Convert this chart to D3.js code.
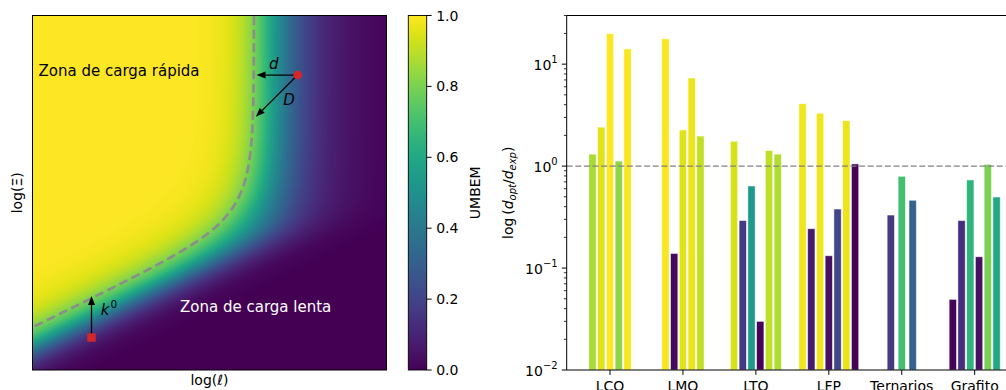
<!DOCTYPE html>
<html>
<head>
<meta charset="utf-8">
<script src="https://cdn.jsdelivr.net/npm/d3@7"></script>
<style>
  body { margin: 0; background: #fff; }
  svg { display: block; font-family: "DejaVu Sans", sans-serif; }
</style>
</head>
<body>
<script>
// ---- bar chart data (ratio d_opt/d_exp and UMBEM colour value per study) ----
var materials = ["LCO", "LMO", "LTO", "LFP", "Ternarios", "Grafito"];
var ratioLCO = [1.31, 2.41, 19.9, 1.12, 14.1];
var ratioLMO = [17.7, 0.139, 2.26, 7.31, 1.97];
var ratioLTO = [1.75, 0.292, 0.638, 0.030, 1.42, 1.31];
var ratioLFP = [4.09, 0.243, 3.30, 0.132, 0.379, 2.79, 1.05];
var ratioTern = [0.331, 0.794, 0.462];
var ratioGraf = [0.0493, 0.292, 0.731, 0.129, 1.04, 0.497];
var umbemLCO = [0.87, 0.95, 1.0, 0.83, 0.99];
var umbemLMO = [0.99, 0.03, 0.95, 0.97, 0.91];
var umbemLTO = [0.94, 0.17, 0.54, 0.01, 0.9, 0.88];
var umbemLFP = [0.98, 0.07, 0.98, 0.04, 0.21, 0.97, 0.01];
var umbemTern = [0.17, 0.7, 0.31];
var umbemGraf = [0.01, 0.13, 0.65, 0.04, 0.8, 0.6];
var yTicks = [0.01, 0.1, 1, 10];
var yExps = ["\u22122", "\u22121", "0", "1"];
var cbTicks = [0, 0.2, 0.4, 0.6, 0.8, 1.0];

// ---- map model parameters (normalised log axes) ----
var diffSlope = 5.0, diffMid = 0.636;       // diffusion-limited side
var kinBase = 0.11, kinSlope = 0.49;        // kinetic-limited line
var kinLin = 5, kinQuad = 40;
var contourLevel = 0.8;

// annotations in normalised map units
var markerCircle = [0.749, 0.832];
var markerSquare = [0.1667, 0.0917];
var arrowFrom = [[0.749, 0.832], [0.749, 0.832], [0.1667, 0.0917]];
var arrowTo = [[0.633, 0.832], [0.631, 0.7145], [0.1667, 0.2087]];

var ratios = [ratioLCO, ratioLMO, ratioLTO, ratioLFP, ratioTern, ratioGraf];
var umbems = [umbemLCO, umbemLMO, umbemLTO, umbemLFP, umbemTern, umbemGraf];

function umbem(u, v) {
  var phiD = Math.pow(10, diffSlope * (u - diffMid));
  var t = kinBase + kinSlope * u - v;
  var phiK = Math.pow(10, kinLin * t + kinQuad * Math.max(0, t) * t);
  var phi = phiD + phiK;
  return Math.tanh(phi) / phi;
}

var svg = d3.select("body").append("svg")
  .attr("width", 1006)
  .attr("height", 390);

var color = d3.scaleSequential(d3.interpolateViridis).domain([0, 1]);

// ---------------- left: map ----------------
var hm = { x: 32.5, y: 15.5, w: 354, h: 354.5 };
var uScale = d3.scaleLinear().domain([0, 1]).range([hm.x, hm.x + hm.w]);
var vScale = d3.scaleLinear().domain([0, 1]).range([hm.y + hm.h, hm.y]);

var cw = 354, ch = 355;
var canvas = document.createElement("canvas");
canvas.width = cw; canvas.height = ch;
var ctx = canvas.getContext("2d");
var img = ctx.createImageData(cw, ch);
for (var j = 0; j < ch; j++) {
  for (var i = 0; i < cw; i++) {
    var c = d3.rgb(color(umbem((i + 0.5) / cw, 1 - (j + 0.5) / ch)));
    var k = (j * cw + i) * 4;
    img.data[k] = c.r; img.data[k + 1] = c.g; img.data[k + 2] = c.b; img.data[k + 3] = 255;
  }
}
ctx.putImageData(img, 0, 0);

svg.append("image")
  .attr("x", hm.x).attr("y", hm.y)
  .attr("width", hm.w).attr("height", hm.h)
  .attr("preserveAspectRatio", "none")
  .attr("href", canvas.toDataURL());

// dashed contour of the map
var N = 240, grid = new Array(N * N);
for (var gj = 0; gj < N; gj++)
  for (var gi = 0; gi < N; gi++)
    grid[gj * N + gi] = umbem((gi + 0.5) / N, 1 - (gj + 0.5) / N);
var cont = d3.contours().size([N, N]).thresholds([contourLevel])(grid)[0];
var ring = cont.coordinates.map(function (p) { return p[0]; })
  .sort(function (a, b) { return b.length - a.length; })[0];
var onEdge = function (p) { return p[0] < 0.25 || p[1] < 0.25 || p[0] > N - 0.25 || p[1] > N - 0.25; };
var startIdx = ring.findIndex(onEdge);
var rot = ring.slice(startIdx).concat(ring.slice(0, startIdx));
var runs = [], cur = [];
rot.forEach(function (p) {
  if (onEdge(p)) { if (cur.length) runs.push(cur); cur = []; }
  else cur.push(p);
});
if (cur.length) runs.push(cur);
var curve = runs.sort(function (a, b) { return b.length - a.length; })[0];
if (curve[0][1] > curve[curve.length - 1][1]) curve.reverse();

var gx = d3.scaleLinear().domain([0, N]).range([hm.x, hm.x + hm.w]);
var gy = d3.scaleLinear().domain([0, N]).range([hm.y, hm.y + hm.h]);
svg.append("path")
  .attr("d", d3.line().x(function (p) { return gx(p[0]); }).y(function (p) { return gy(p[1]); })(curve))
  .attr("fill", "none")
  .attr("stroke", "#8c8c8c")
  .attr("stroke-width", 2.6)
  .attr("stroke-dasharray", "9,4.5");

// arrows
function arrow(a, b) {
  var x1 = uScale(a[0]), y1 = vScale(a[1]), x2 = uScale(b[0]), y2 = vScale(b[1]);
  var dx = x2 - x1, dy = y2 - y1, len = Math.sqrt(dx * dx + dy * dy);
  var ux = dx / len, uy = dy / len, hl = 9, hw = 3.5;
  var bx = x2 - ux * hl, by = y2 - uy * hl;
  svg.append("line")
    .attr("x1", x1).attr("y1", y1).attr("x2", bx).attr("y2", by)
    .attr("stroke", "black").attr("stroke-width", 1.3);
  svg.append("path")
    .attr("d", "M" + x2 + "," + y2 + "L" + (bx - uy * hw) + "," + (by + ux * hw) +
      "L" + (bx + uy * hw) + "," + (by - ux * hw) + "Z")
    .attr("fill", "black");
}
arrowFrom.forEach(function (a, idx) { arrow(a, arrowTo[idx]); });

svg.append("circle")
  .attr("cx", uScale(markerCircle[0])).attr("cy", vScale(markerCircle[1]))
  .attr("r", 4.3).attr("fill", "#d62728");
svg.append("rect")
  .attr("x", uScale(markerSquare[0]) - 4.2).attr("y", vScale(markerSquare[1]) - 4.2)
  .attr("width", 8.4).attr("height", 8.4).attr("fill", "#d62728");

svg.append("text")
  .attr("x", uScale(0.017)).attr("y", vScale(0.829))
  .attr("font-size", 15).attr("fill", "black")
  .text("Zona de carga rápida");
svg.append("text")
  .attr("x", uScale(0.4167)).attr("y", vScale(0.165))
  .attr("font-size", 15).attr("fill", "white")
  .text("Zona de carga lenta");
svg.append("text")
  .attr("x", uScale(0.668)).attr("y", vScale(0.849))
  .attr("font-size", 15).attr("font-style", "italic")
  .text("d");
svg.append("text")
  .attr("x", uScale(0.708)).attr("y", vScale(0.7475))
  .attr("font-size", 15).attr("font-style", "italic")
  .text("D");
var kt = svg.append("text")
  .attr("x", uScale(0.193)).attr("y", vScale(0.155))
  .attr("font-size", 15);
kt.append("tspan").attr("font-style", "italic").text("k");
kt.append("tspan").attr("font-size", 10.5).attr("dy", -7).attr("dx", 1).text("0");

svg.append("rect")
  .attr("x", hm.x).attr("y", hm.y).attr("width", hm.w).attr("height", hm.h)
  .attr("fill", "none").attr("stroke", "black").attr("stroke-width", 1);

svg.append("text")
  .attr("x", hm.x + hm.w / 2).attr("y", 385)
  .attr("text-anchor", "middle").attr("font-size", 14)
  .text("log(\u2113)");
svg.append("text")
  .attr("transform", "translate(22," + (hm.y + hm.h / 2) + ") rotate(-90)")
  .attr("text-anchor", "middle").attr("font-size", 14)
  .text("log(\u039E)");

// ---------------- colorbar ----------------
var cb = { x: 408.3, y: 15.5, w: 18.4, h: 354.5 };
var cbScale = d3.scaleLinear().domain([0, 1]).range([cb.y + cb.h, cb.y]);
var grad = svg.append("defs").append("linearGradient")
  .attr("id", "vir").attr("x1", 0).attr("y1", 1).attr("x2", 0).attr("y2", 0);
d3.range(0, 1.0001, 0.02).forEach(function (t) {
  grad.append("stop").attr("offset", t).attr("stop-color", color(t));
});
svg.append("rect")
  .attr("x", cb.x).attr("y", cb.y).attr("width", cb.w).attr("height", cb.h)
  .attr("fill", "url(#vir)").attr("stroke", "black").attr("stroke-width", 0.9);
var cbAxis = svg.append("g");
cbTicks.forEach(function (t) {
  var yy = cbScale(t);
  cbAxis.append("line")
    .attr("x1", cb.x + cb.w).attr("x2", cb.x + cb.w + 4.9)
    .attr("y1", yy).attr("y2", yy)
    .attr("stroke", "black").attr("stroke-width", 1);
  cbAxis.append("text")
    .attr("x", cb.x + cb.w + 9.5).attr("y", yy + 5)
    .attr("font-size", 14)
    .text(d3.format(".1f")(t));
});
svg.append("text")
  .attr("transform", "translate(480," + (cb.y + cb.h / 2) + ") rotate(-90)")
  .attr("text-anchor", "middle").attr("font-size", 14)
  .text("UMBEM");

// ---------------- right: bars ----------------
var bc = { x: 566.7, y: 15.5, w: 451.3, h: 354.5 };
var xCat = d3.scalePoint().domain(materials).range([bc.x, bc.x + bc.w]).padding(0.594);
var unit = xCat.step();
var y = d3.scaleLog().domain([0.01, 30]).range([bc.y + bc.h, bc.y]);

var bars = [];
materials.forEach(function (m, mi) {
  var vals = ratios[mi], n = vals.length;
  var step = (n <= 3 ? 0.15 : 0.12) * unit;
  vals.forEach(function (v, bi) {
    bars.push({ cx: xCat(m) + (bi - (n - 1) / 2) * step, value: v, c: umbems[mi][bi] });
  });
});

svg.append("g").selectAll("rect").data(bars).enter().append("rect")
  .attr("x", function (d) { return d.cx - 0.05 * unit; })
  .attr("width", 0.1 * unit)
  .attr("y", function (d) { return y(d.value); })
  .attr("height", function (d) { return y(0.01) - y(d.value); })
  .attr("fill", function (d) { return color(d.c); })
  .attr("stroke", "white")
  .attr("stroke-width", 0.8)
  .attr("stroke-opacity", 0.6);

svg.append("line")
  .attr("x1", bc.x).attr("x2", 1010)
  .attr("y1", y(1)).attr("y2", y(1))
  .attr("stroke", "#808080").attr("stroke-width", 1.2)
  .attr("stroke-dasharray", "6,2.6");

// y axis ticks
var minor = [];
yTicks.forEach(function (t) {
  for (var m = 2; m <= 9; m++) if (t * m <= 30) minor.push(t * m);
});
svg.append("g").selectAll("line").data(minor).enter().append("line")
  .attr("x1", bc.x - 2.8).attr("x2", bc.x)
  .attr("y1", function (d) { return y(d); }).attr("y2", function (d) { return y(d); })
  .attr("stroke", "black").attr("stroke-width", 0.8);
yTicks.forEach(function (t, ti) {
  var yy = y(t);
  svg.append("line")
    .attr("x1", bc.x - 4.9).attr("x2", bc.x)
    .attr("y1", yy).attr("y2", yy)
    .attr("stroke", "black").attr("stroke-width", 1);
  var tx = svg.append("text")
    .attr("x", bc.x - 9).attr("y", yy + 5.5)
    .attr("text-anchor", "end").attr("font-size", 14);
  tx.append("tspan").text("10");
  tx.append("tspan").attr("font-size", 10).attr("dy", -6.5).text(yExps[ti]);
});

// x axis ticks
materials.forEach(function (m) {
  svg.append("line")
    .attr("x1", xCat(m)).attr("x2", xCat(m))
    .attr("y1", bc.y + bc.h).attr("y2", bc.y + bc.h + 4.9)
    .attr("stroke", "black").attr("stroke-width", 1);
  svg.append("text")
    .attr("x", xCat(m)).attr("y", bc.y + bc.h + 21)
    .attr("text-anchor", "middle").attr("font-size", 14)
    .text(m);
});

// spines
svg.append("path")
  .attr("d", "M1010," + bc.y + "H" + bc.x + "V" + (bc.y + bc.h) + "H1010")
  .attr("fill", "none").attr("stroke", "black").attr("stroke-width", 1);

// y label
var yl = svg.append("text")
  .attr("transform", "translate(513," + (bc.y + bc.h / 2) + ") rotate(-90)")
  .attr("text-anchor", "middle").attr("font-size", 14);
yl.append("tspan").text("log\u2009(");
yl.append("tspan").attr("font-style", "italic").text("d");
yl.append("tspan").attr("font-style", "italic").attr("font-size", 10).attr("dy", 3).text("opt");
yl.append("tspan").attr("dy", -3).text("/");
yl.append("tspan").attr("font-style", "italic").text("d");
yl.append("tspan").attr("font-style", "italic").attr("font-size", 10).attr("dy", 3).text("exp");
yl.append("tspan").attr("dy", -3).text(")");
</script>
</body>
</html>
